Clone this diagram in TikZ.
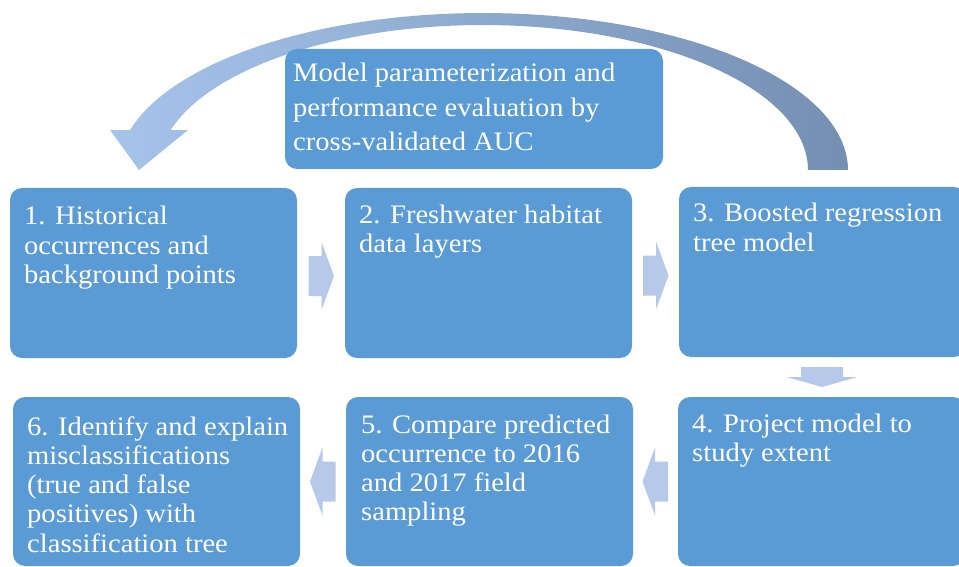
\documentclass[tikz,border=0pt]{standalone}
\usepackage{fontspec}
\setmainfont{Liberation Serif}[FakeStretch=1.07]
\definecolor{boxblue}{RGB}{91,155,213}
\definecolor{arrowblue}{RGB}{182,201,232}
\definecolor{arcleft}{RGB}{166,196,234}
\definecolor{arcmid}{RGB}{158,183,216}
\definecolor{arcright}{RGB}{116,143,178}
\newcommand\mylines[1]{\vtop{\halign{##\hfil\cr #1\crcr}}}
\begin{document}
\begin{tikzpicture}[x=1pt,y=-1pt,
  box/.style={fill=boxblue, rounded corners=12pt, minimum width=287pt, minimum height=170pt, anchor=north west, inner sep=0pt, outer sep=0pt},
  btxt/.style={text=white, anchor=base west, inner sep=0pt, font=\fontsize{26.7pt}{29.3pt}\selectfont},
  ttxt/.style={btxt, font=\fontsize{26.7pt}{34.5pt}\selectfont},
  rarrow/.pic={\fill[arrowblue] (-12.5,-20) -- (0.5,-20) -- (0.5,-34) -- (13,0) -- (0.5,34) -- (0.5,20) -- (-12.5,20) -- cycle;},
  darrow/.pic={\fill[arrowblue] (-21,-10) -- (21,-10) -- (21,0) -- (35.5,0) -- (0,10) -- (-35.5,0) -- (-21,0) -- cycle;}
]
\useasboundingbox (0,0) rectangle (959,567);
\clip (0,0) rectangle (959,567);

% curved feedback arrow
\shade[left color=arcleft, middle color=arcmid, right color=arcright]
  plot[domain=0:165.24, samples=80] ({483+365*cos(\x)},{170-157*sin(\x)})
  -- (110,130) -- (139,170) -- (188,130)
  -- plot[domain=164:0, samples=80] ({483+325*cos(\x)},{170-145*sin(\x)})
  -- cycle;

% boxes
\node[box, minimum width=378pt, minimum height=120pt] (b0) at (285,49) {};
\node[box] (b1) at (10,188) {};
\node[box] (b2) at (345,188) {};
\node[box] (b3) at (679,187) {};
\node[box, minimum height=169pt] (b4) at (678,397) {};
\node[box, minimum height=169pt] (b5) at (346,397) {};
\node[box, minimum height=169pt] (b6) at (13,397) {};

% texts
\node[ttxt] (t0) at (293,82) {\mylines{Model parameterization and\cr performance evaluation by\cr cross-validated AUC}};
\node[btxt] (t1) at (24,225) {\mylines{1. Historical\cr occurrences and\cr background points}};
\node[btxt] (t2) at (359,223) {\mylines{2. Freshwater habitat\cr data layers}};
\node[btxt] (t3) at (693,222) {\mylines{3. Boosted regression\cr tree model}};
\node[btxt] (t4) at (692,432) {\mylines{4. Project model to\cr study extent}};
\node[btxt] (t5) at (361,433) {\mylines{5. Compare predicted\cr occurrence to 2016\cr and 2017 field\cr sampling}};
\node[btxt] (t6) at (27,435) {\mylines{6. Identify and explain\cr misclassifications\cr (true and false\cr positives) with\cr classification tree}};

% block arrows between boxes
\path (b1.east) -- (b2.west) coordinate[midway] (m12);
\path (b2.east) -- (b3.west) coordinate[midway] (m23);
\path (b3.south) -- (b4.north) coordinate[midway] (m34);
\path (b4.west) -- (b5.east) coordinate[midway] (m45);
\path (b5.west) -- (b6.east) coordinate[midway] (m56);
\pic at ([yshift=-3pt]m12) {rarrow};
\pic at ([yshift=-3pt]m23) {rarrow};
\pic at (m34) {darrow};
\pic[rotate=180] at (m45) {rarrow};
\pic[rotate=180] at (m56) {rarrow};
\end{tikzpicture}
\end{document}
